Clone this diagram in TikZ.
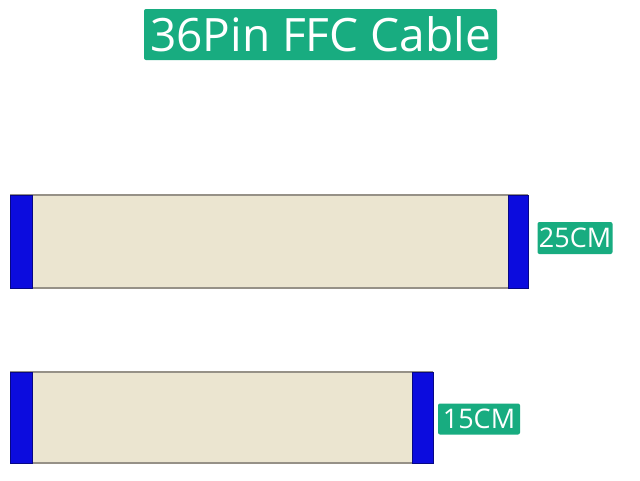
\documentclass[tikz,border=0pt]{standalone}
\usepackage{fontspec}
\setmainfont{Open Sans}
\definecolor{tagteal}{RGB}{24,172,128}
\definecolor{ribbon}{RGB}{235,229,208}
\definecolor{plugblue}{RGB}{12,12,222}
\definecolor{edgegrey}{RGB}{150,145,135}
\tikzset{
  tag/.style={fill=tagteal, text=white, rounded corners=2pt, inner sep=0pt},
  ribbonfill/.style={fill=ribbon},
  ribbonedge/.style={draw=edgegrey, line width=1.5pt},
  plugend/.style={fill=plugblue, draw=plugblue!60!black, line width=0.6pt},
}
\begin{document}
\begin{tikzpicture}[x=1pt, y=-1pt]
      \useasboundingbox[fill=white] (0,0) rectangle (640,480);
      %
      \node[tag, minimum width=353pt, minimum height=51pt, font=\fontsize{46}{50}\selectfont]
        (title) at (320.5,34.5) {36Pin FFC Cable};        % title
      %
      \fill[ribbonfill] (10,195) rectangle (528,288);     % long cable
      \draw[ribbonedge] (10,195) -- (528,195);
      \draw[ribbonedge] (10,288) -- (528,288);
      \draw[plugend] (10,195) rectangle (32,288);
      \draw[plugend] (508,195) rectangle (528,288);
      \node[tag, minimum width=75pt, minimum height=32pt, font=\fontsize{27}{30}\selectfont]
        (long) at (575,238) {25CM};
      %%
      \fill[ribbonfill] (10,372) rectangle (433,463);     % short cable
      \draw[ribbonedge] (10,372) -- (433,372);
      \draw[ribbonedge] (10,463) -- (433,463);
      \draw[plugend] (10,372) rectangle (32,463);
      \draw[plugend] (412,372) rectangle (433,463);
      \node[tag, minimum width=82pt, minimum height=31pt, font=\fontsize{27}{30}\selectfont]
        (short) at (479,419) {15CM};
      %
    \end{tikzpicture}
\end{document}
